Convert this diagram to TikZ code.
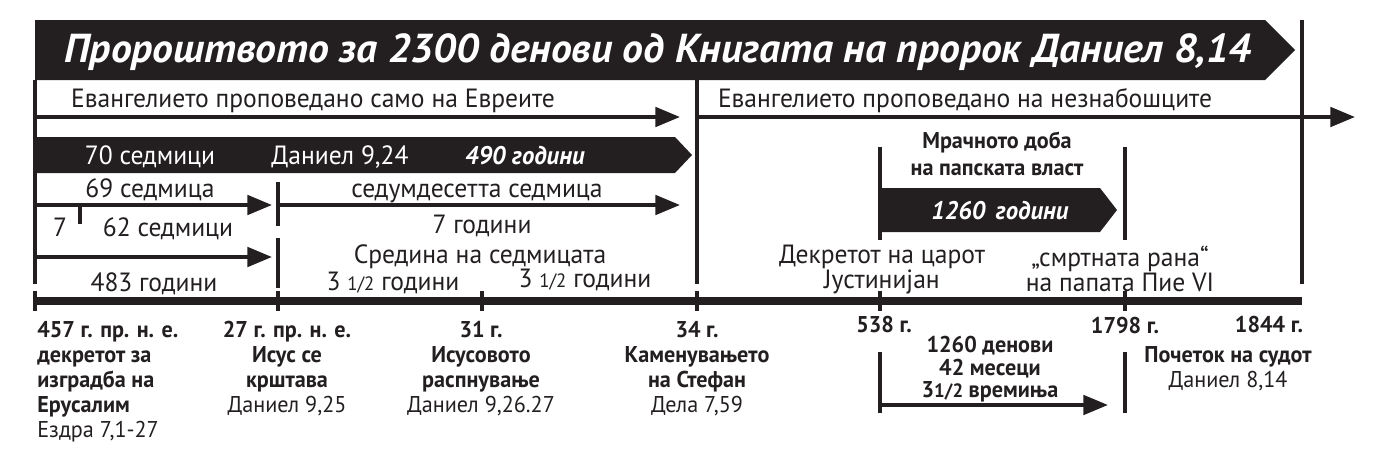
\documentclass[tikz,border=0pt]{standalone}
\usepackage{fontspec}
\setmainfont{PT Sans}[FakeStretch=0.97]
\newfontfamily\headfont{PT Sans}[FakeStretch=1.03]
\usetikzlibrary{arrows.meta}
\definecolor{ink}{HTML}{231F20}
\tikzset{
  rule/.style={draw=ink,line width=2.2pt},
  fwd/.style={rule,-{Triangle[length=14pt,width=11pt]}},
  axisline/.style={draw=ink,line width=5pt},
  band/.style={fill=ink},
  txt/.style={inner sep=0pt,align=center,text=ink,font=\fontsize{15}{14.2}\selectfont},
  inv/.style={txt,text=white},
  invb/.style={inv,font=\bfseries\itshape\fontsize{14.5}{15}\selectfont},
  yr/.style={inner sep=0pt,align=center,text=ink,font=\bfseries\fontsize{13}{14.2}\selectfont}
}
\newcommand{\hlf}{{\fontsize{11}{12}\selectfont 1/2}}
\begin{document}
\begin{tikzpicture}[x=0.2mm,y=-0.2mm]
  \useasboundingbox (0,0) rectangle (1375,468);
  % points on the time axis
  \coordinate (y457) at (35,301);
  \coordinate (y27) at (278,301);
  \coordinate (y31) at (482,301);
  \coordinate (y34) at (697,301);
  \coordinate (y538) at (880,301);
  \coordinate (y1798) at (1125,301);
  \coordinate (y1844) at (1302,301);
  % heights of the rows
  \coordinate (top) at (0,20);
  \coordinate (banbot) at (0,80);
  \coordinate (gospel) at (0,117);
  \coordinate (wk69) at (0,205);
  \coordinate (wk62) at (0,257);
  \coordinate (lnend) at (0,284);
  \coordinate (tkA) at (0,291);
  \coordinate (tkB) at (0,311);
  \coordinate (pap) at (0,405);
  \coordinate (gentend) at (1355,117);

  % title band
  \fill[band] (35,20) -- (1265,20) -- (1295,50) -- (1265,80) -- (35,80) -- cycle;
  \node[inv,anchor=base,font=\headfont\bfseries\itshape\fontsize{23}{26}\selectfont] (title) at (658,62)
    {Пророштвото за 2300 денови од Книгата на пророк Даниел 8,14};

  % frame and axis
  \draw[rule] (y457 |- banbot) -- (y457 |- lnend);
  \draw[rule] (y34 |- banbot) -- (y34 |- lnend);
  \draw[rule] (y1844 |- top) -- (y1844 |- lnend);
  \draw[rule] (y27 |- 0,182) -- (y27 |- 0,226);
  \draw[rule] (y27 |- 0,238) -- (y27 |- 0,288);
  \draw[axisline] (y457) -- (y1844);
  \foreach \t in {y457,y27,y31,y34,y538,y1798}
    \draw[rule] (\t |- tkA) -- (\t |- tkB);

  % gospel rows
  \draw[fwd,shorten >=3.4mm] (y457 |- gospel) -- (y34 |- gospel);
  \node[txt,anchor=base] (jews) at (313,107) {Евангелието проповедано само на Евреите};
  \draw[fwd] (y34 |- gospel) -- (gentend);
  \node[txt,anchor=base] (gent) at (965,107) {Евангелието проповедано на незнабошците};

  % 70 weeks
  \fill[band] (35,137) -- (675,137) -- (692,155) -- (675,173) -- (35,173) -- cycle;
  \node[inv,anchor=base] (w70) at (150,164) {70 седмици};
  \node[inv,anchor=base] (dan924) at (340,164) {Даниел 9,24};
  \node[invb,anchor=base] (y490) at (525,164) {490 години};

  \draw[fwd,shorten >=1.2mm] (y457 |- wk69) -- (y27 |- wk69);
  \node[txt,anchor=base] (w69) at (150,197) {69 седмица};
  \draw[rule] (80,206) -- (80,224);
  \node[txt,anchor=base] (w7) at (60,236) {7};
  \node[txt,anchor=base] (w62) at (168,236) {62 седмици};
  \draw[fwd,shorten >=1.2mm] (y457 |- wk62) -- (y27 |- wk62);
  \node[txt,anchor=base] (y483) at (154,291) {483 години};

  \draw[fwd,shorten >=3.4mm] (y27 |- wk69) -- (y34 |- wk69);
  \node[txt,anchor=base] (w70th) at (477,197) {седумдесетта седмица};
  \node[txt,anchor=base] (y7) at (482,233) {7 години};
  \node[txt,anchor=base] (mid) at (480,263) {Средина на седмицата};
  \node[txt,anchor=base] (h1) at (393,290) {3 \hlf{} години};
  \node[txt,anchor=base] (h2) at (585,287) {3 \hlf{} години};

  % papacy
  \node[yr,anchor=north,font=\bfseries\fontsize{13}{15.3}\selectfont] (dark) at (997,132) {Мрачното доба\\на папската власт};
  \draw[rule] (y538 |- 0,147) -- (y538 |- 0,240);
  \draw[rule] (y1798 |- 0,147) -- (y1798 |- 0,240);
  \fill[band] (880,188) -- (1100,188) -- (1117,210) -- (1100,232) -- (880,232) -- cycle;
  \node[invb,anchor=base] (y1260) at (1000,219) {1260 \,години};
  \node[txt,anchor=north] (just) at (882,245) {Декретот на царот\\Јустинијан};
  \node[txt,anchor=north] (pius) at (1120,246) {„смртната рана“\\на папата Пие VI};

  % dates and events
  \node[yr,align=left,anchor=north west] (e457) at (37,321)
    {457 г. пр. н. е.\\декретот за\\изградба на\\Ерусалим\\\mdseries Ездра 7,1-27};
  \node[yr,anchor=north] (e27) at (287,321)
    {27 г. пр. н. е.\\Исус се\\крштава\\\mdseries Даниел 9,25};
  \node[yr,anchor=north] (e31) at (481,321)
    {31 г.\\Исусовото\\распнување\\\mdseries Даниел 9,26.27};
  \node[yr,anchor=north] (e34) at (697,321)
    {34 г.\\Каменувањето\\на Стефан\\\mdseries Дела 7,59};
  \node[yr,anchor=base] (e538) at (884,332) {538 г.};
  \node[yr,anchor=base] (e1798) at (1125,333) {1798 г.};
  \node[yr,anchor=base] (e1844) at (1269,332) {1844 г.};
  \node[yr,anchor=north,font=\bfseries\fontsize{13}{12.8}\selectfont] (days) at (990,336)
    {1260 денови\\42 месеци\\3\hlf{} времиња};
  \draw[rule] (y538 |- 0,352) -- (y538 |- 0,413);
  \draw[rule] (y1798 |- 0,352) -- (y1798 |- 0,413);
  \draw[fwd,shorten >=3.4mm] (y538 |- pap) -- (y1798 |- pap);
  \node[yr,anchor=north] (judg) at (1228,346) {Почеток на судот\\\mdseries Даниел 8,14};
\end{tikzpicture}
\end{document}
